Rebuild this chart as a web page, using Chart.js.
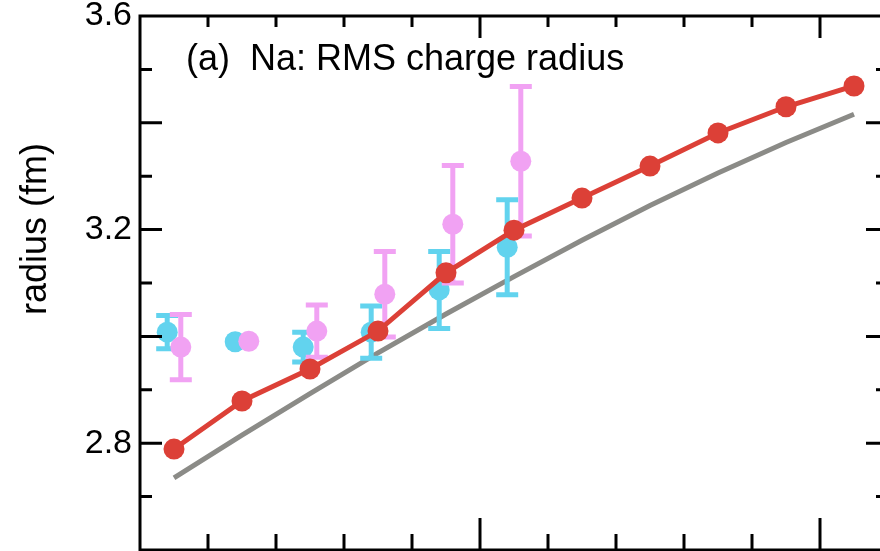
<!DOCTYPE html>
<html>
<head>
<meta charset="utf-8">
<script src="https://cdn.jsdelivr.net/npm/chart.js@4/dist/chart.umd.min.js"></script>
<style>
  html, body { margin: 0; padding: 0; background: #fff; overflow: hidden; }
  #wrap { width: 880px; height: 551px; overflow: hidden; }
  canvas { display: block; }
</style>
</head>
<body>
<!-- the canvas is a little wider than the view so the right frame edge falls just outside it -->
<div id="wrap"><canvas id="c" width="900" height="551"></canvas></div>
<script>
// Odd-A sodium isotopes (mass number A)
const massNumbers = [21, 23, 25, 27, 29, 31, 33, 35, 37, 39, 41];
// Calculated RMS charge radius (fm), red curve with markers
const radiusCalc = [2.789, 2.879, 2.939, 3.010, 3.119, 3.199, 3.259, 3.319, 3.381, 3.430, 3.469];
// Reference curve (fm), grey line
const radiusRef = [2.735, 2.815, 2.893, 2.969, 3.042, 3.112, 3.180, 3.245, 3.306, 3.363, 3.416];

// Measured radii with uncertainties
const expMass = [21, 23, 25, 27, 29, 31];
const expRadiusA = [3.008, 2.990, 2.980, 3.008, 3.087, 3.167];
const expErrorA = [0.031, 0, 0.028, 0.049, 0.072, 0.089];
const expRadiusB = [2.980, 2.991, 3.010, 3.079, 3.210, 3.328];
const expErrorB = [0.061, 0, 0.049, 0.080, 0.110, 0.140];

// Axis ticks
const xMinorTicks = [22, 24, 26, 28, 32, 34, 36, 38];
const xMajorTicks = [30, 40];
const yMinorTicks = [2.7, 2.9, 3.1, 3.3, 3.5];
const yMajorTicks = [2.8, 3.0, 3.2, 3.4];
const yTickLabels = ['2.8', '3.2', '3.6'];

const FONT = "'Liberation Sans', Arial, Helvetica, sans-serif";
const RED = '#dc4037';
const GREY = '#8b8b87';
const CYAN = '#62d3ee';
const PINK = '#f1a2f3';
const SHIFT = 0.2; // horizontal separation of the two measured series

const pts = (xs, ys, dx) => xs.map((x, i) => ({ x: x + dx, y: ys[i] }));

// Error bars are drawn just before their own dataset so markers sit on top
const errorBars = {
  id: 'errorBars',
  beforeDatasetDraw(chart, args) {
    const ds = chart.data.datasets[args.index];
    if (!ds.errors) return;
    const { ctx, scales: { x, y } } = chart;
    ctx.save();
    ctx.strokeStyle = ds.backgroundColor;
    ctx.lineWidth = 5;
    ctx.lineCap = 'butt';
    ds.data.forEach((p, i) => {
      const e = ds.errors[i];
      if (!e) return;
      const px = x.getPixelForValue(p.x);
      const yt = y.getPixelForValue(p.y + e);
      const yb = y.getPixelForValue(p.y - e);
      ctx.beginPath();
      ctx.moveTo(px, yt); ctx.lineTo(px, yb);
      ctx.moveTo(px - 11, yt); ctx.lineTo(px + 11, yt);
      ctx.moveTo(px - 11, yb); ctx.lineTo(px + 11, yb);
      ctx.stroke();
    });
    ctx.restore();
  }
};

// Box frame with inward ticks, panel caption and axis title
const frame = {
  id: 'frame',
  afterDraw(chart) {
    const { ctx, chartArea: a, scales: { x, y } } = chart;
    ctx.save();
    ctx.strokeStyle = '#000';
    ctx.lineWidth = 3;
    ctx.lineCap = 'butt';
    ctx.strokeRect(a.left, a.top, a.right - a.left, a.bottom - a.top);

    const vtick = (v, len, top) => {
      const px = x.getPixelForValue(v);
      ctx.beginPath();
      if (top) { ctx.moveTo(px, a.top); ctx.lineTo(px, a.top + len); }
      else { ctx.moveTo(px, a.bottom); ctx.lineTo(px, a.bottom - len); }
      ctx.stroke();
    };
    xMinorTicks.forEach(v => { vtick(v, 16, false); vtick(v, 11, true); });
    xMajorTicks.forEach(v => { vtick(v, 32, false); vtick(v, 22, true); });

    const htick = (v, len) => {
      const py = y.getPixelForValue(v);
      ctx.beginPath();
      ctx.moveTo(a.left, py); ctx.lineTo(a.left + len, py);
      ctx.moveTo(a.right, py); ctx.lineTo(a.right - len, py);
      ctx.stroke();
    };
    yMinorTicks.forEach(v => htick(v, 12));
    yMajorTicks.forEach(v => htick(v, 22));

    ctx.fillStyle = '#000';
    ctx.font = `36px ${FONT}`;
    ctx.textAlign = 'left';
    ctx.textBaseline = 'alphabetic';
    ctx.fillText('(a)  Na: RMS charge radius', 186, 70);

    ctx.translate(46, 229);
    ctx.rotate(-Math.PI / 2);
    ctx.textAlign = 'center';
    ctx.fillText('radius (fm)', 0, 0);
    ctx.restore();
  }
};

new Chart(document.getElementById('c'), {
  type: 'scatter',
  data: {
    datasets: [
      {
        label: 'reference',
        data: pts(massNumbers, radiusRef, 0),
        showLine: true,
        borderColor: GREY,
        borderWidth: 5,
        pointRadius: 0,
        pointHoverRadius: 0,
        order: 4
      },
      {
        label: 'measured A',
        data: pts(expMass, expRadiusA, -SHIFT),
        errors: expErrorA,
        backgroundColor: CYAN,
        borderWidth: 0,
        pointRadius: 10.5,
        order: 3
      },
      {
        label: 'measured B',
        data: pts(expMass, expRadiusB, SHIFT),
        errors: expErrorB,
        backgroundColor: PINK,
        borderWidth: 0,
        pointRadius: 10.5,
        order: 2
      },
      {
        label: 'calculated',
        data: pts(massNumbers, radiusCalc, 0),
        showLine: true,
        borderColor: RED,
        backgroundColor: RED,
        borderWidth: 5,
        pointBorderWidth: 0,
        pointRadius: 10.5,
        order: 1
      }
    ]
  },
  options: {
    responsive: false,
    animation: false,
    events: [],
    layout: { autoPadding: false, padding: { left: 0, top: 16, right: 12, bottom: 1 } },
    plugins: { legend: { display: false }, tooltip: { enabled: false } },
    scales: {
      x: { type: 'linear', min: 20, max: 42, display: false },
      y: {
        type: 'linear',
        min: 2.6,
        max: 3.6,
        position: 'left',
        grid: { display: false, drawTicks: false },
        border: { display: false },
        ticks: {
          stepSize: 0.1,
          autoSkip: false,
          padding: 8,
          color: '#000',
          font: { family: FONT, size: 34 },
          callback: (v) => {
            const s = Number(v).toFixed(1);
            return yTickLabels.includes(s) ? s : '';
          }
        },
        afterFit(scale) {
          scale.width = 140;
          scale.paddingTop = 0;
          scale.paddingBottom = 0;
        }
      }
    }
  },
  plugins: [errorBars, frame]
});
</script>
</body>
</html>
